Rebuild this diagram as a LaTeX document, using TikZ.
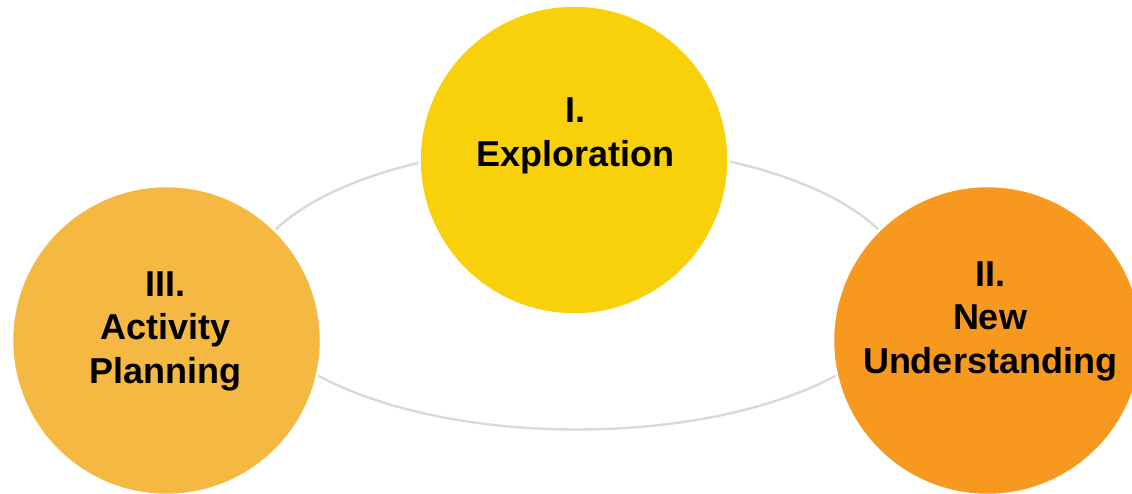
\documentclass[tikz,border=0pt]{standalone}
\usepackage{fontspec}
\setmainfont{Liberation Sans}
\begin{document}
\begin{tikzpicture}[x=1pt,y=-1pt,
  phase/.style={circle,draw=white,line width=2.5pt,minimum size=309pt,inner sep=0pt},
  phaselabel/.style={align=center,font=\bfseries\fontsize{36}{43.5}\selectfont,text=black,inner sep=0pt},
  cycle/.style={draw=ringgray,line width=2.4pt}]
  \definecolor{ringgray}{HTML}{D9D9D9}
  \definecolor{phaseone}{HTML}{F9D10A}
  \definecolor{phasetwo}{HTML}{F7981F}
  \definecolor{phasethree}{HTML}{F4B843}
  \useasboundingbox (0,0) rectangle (1132,494);
  \clip (0,0) rectangle (1132,494);
  % the cycle ring behind the three phases
  \draw[cycle] (577,287.5) ellipse [x radius=330, y radius=142];
  % phases
  \node[phase,fill=phaseone]   (explore) at (574,160)   {};
  \node[phase,fill=phasetwo]   (understand) at (987.5,340.5) {};
  \node[phase,fill=phasethree] (plan) at (166.5,340.5) {};
  % labels
  \node[phaselabel] (exploreT) at (575.5,136) {I.\\Exploration};
  \node[phaselabel] (understandT) at (990,321.4) {II.\\New\\Understanding};
  \node[phaselabel] (planT) at (165.5,331.3) {III.\\Activity\\Planning};
\end{tikzpicture}
\end{document}
